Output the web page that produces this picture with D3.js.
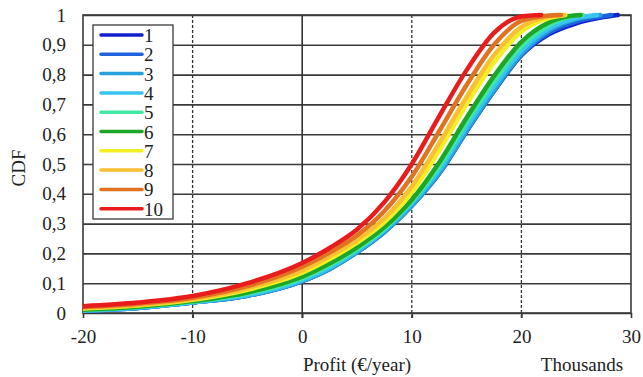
<!DOCTYPE html>
<html>
<head>
<meta charset="utf-8">
<script src="https://cdn.jsdelivr.net/npm/d3@7"></script>
<style>
  html, body { margin: 0; padding: 0; background: #fff; }
  svg text { font-family: 'Liberation Serif', 'Times New Roman', serif; fill: #222; }
</style>
</head>
<body>
<svg id="chart" width="643" height="377"></svg>
<script>
const xGrid = [-20, -15, -10, -5, 0, 2.5, 5, 7.5, 10, 12.5, 15, 17.5, 20, 22.5, 25, 27.5]

// CDF values per scenario at xGrid; series stop at their max profit (CDF = 1)
const s1 = [0.008, 0.017, 0.035, 0.058, 0.107, 0.148, 0.204, 0.272, 0.36, 0.468, 0.61, 0.745, 0.865, 0.935, 0.972, 0.993]
const s2 = [0.008, 0.017, 0.035, 0.058, 0.107, 0.148, 0.204, 0.272, 0.36, 0.468, 0.61, 0.745, 0.866, 0.94, 0.978, 0.996]
const s3 = [0.008, 0.017, 0.035, 0.058, 0.107, 0.148, 0.204, 0.272, 0.36, 0.47, 0.612, 0.748, 0.87, 0.948, 0.986]
const s4 = [0.008, 0.018, 0.036, 0.06, 0.11, 0.152, 0.208, 0.278, 0.368, 0.48, 0.625, 0.76, 0.88, 0.955, 0.99]
const s5 = [0.01, 0.02, 0.038, 0.065, 0.116, 0.159, 0.214, 0.282, 0.374, 0.492, 0.64, 0.777, 0.895, 0.965, 0.998]
const s6 = [0.011, 0.021, 0.04, 0.069, 0.122, 0.166, 0.22, 0.288, 0.38, 0.505, 0.655, 0.795, 0.91, 0.975, 0.999]
const s7 = [0.015, 0.025, 0.044, 0.078, 0.135, 0.181, 0.236, 0.305, 0.405, 0.545, 0.7, 0.84, 0.945, 0.99]
const s8 = [0.017, 0.027, 0.047, 0.083, 0.143, 0.19, 0.245, 0.318, 0.425, 0.57, 0.725, 0.865, 0.96, 0.995]
const s9 = [0.02, 0.031, 0.051, 0.09, 0.155, 0.203, 0.26, 0.342, 0.458, 0.61, 0.765, 0.9, 0.98, 0.998]
const s10 = [0.023, 0.035, 0.057, 0.1, 0.168, 0.218, 0.28, 0.372, 0.5, 0.66, 0.815, 0.94, 0.995]
const seriesMax = [28.8, 28.2, 27.2, 26.9, 25.6, 25.4, 24.0, 23.9, 23.6, 21.8]

const seriesNames = ['1', '2', '3', '4', '5', '6', '7', '8', '9', '10']
const seriesColors = ['#1020cc', '#1e62dc', '#28a0dc', '#38c4f0', '#40e8a4', '#1ea626', '#f2f024', '#f8c032', '#e07222', '#e81c1c']
const xTicks = [-20, -10, 0, 10, 20, 30]
const dashedX = [-10, 10, 20]
const yTicks = [0, 0.1, 0.2, 0.3, 0.4, 0.5, 0.6, 0.7, 0.8, 0.9, 1]

const allSeries = [s1, s2, s3, s4, s5, s6, s7, s8, s9, s10]

const svg = d3.select('#chart')
const margin = { top: 15, right: 12, bottom: 64, left: 83 }
const width = 643 - margin.left - margin.right
const height = 377 - margin.top - margin.bottom
const fontSize = '19px'

const bounds = svg.append('g').attr('transform', `translate(${margin.left},${margin.top})`)

const xScale = d3.scaleLinear().domain([-20, 30]).range([0, width])
const yScale = d3.scaleLinear().domain([0, 1]).range([height, 0])

// horizontal grid
bounds
  .append('g')
  .call(d3.axisRight(yScale).tickValues(yTicks).tickSize(width).tickFormat(''))
  .call((g) => g.select('.domain').remove())
  .call((g) => g.selectAll('.tick line').attr('stroke', '#3a3a3a').attr('stroke-width', 1.6))

// vertical grid: solid at 0, dashed elsewhere
bounds
  .append('g')
  .selectAll('line')
  .data(dashedX)
  .join('line')
  .attr('x1', (d) => xScale(d))
  .attr('x2', (d) => xScale(d))
  .attr('y1', 0)
  .attr('y2', height + 5)
  .attr('stroke', '#333')
  .attr('stroke-width', 1.3)
  .attr('stroke-dasharray', '3,2')

bounds
  .append('line')
  .attr('x1', xScale(0))
  .attr('x2', xScale(0))
  .attr('y1', 0)
  .attr('y2', height + 5)
  .attr('stroke', '#333')
  .attr('stroke-width', 1.6)

// frame
bounds
  .append('rect')
  .attr('width', width)
  .attr('height', height)
  .attr('fill', 'none')
  .attr('stroke', '#3a3a3a')
  .attr('stroke-width', 1.6)

// x axis
const xAxis = bounds
  .append('g')
  .attr('transform', `translate(0,${height})`)
  .call(d3.axisBottom(xScale).tickValues(xTicks).tickSize(5).tickPadding(12).tickFormat((d) => String(d)))
xAxis.select('.domain').remove()
xAxis.selectAll('.tick line').attr('stroke', '#333').attr('stroke-width', 1.6)
xAxis.selectAll('.tick text').style('font-size', fontSize).attr('fill', '#222')

// y axis labels
const yAxis = bounds
  .append('g')
  .call(d3.axisLeft(yScale).tickValues(yTicks).tickSize(0).tickPadding(17).tickFormat((d) => String(d).replace('.', ',')))
yAxis.select('.domain').remove()
yAxis.selectAll('.tick text').style('font-size', fontSize).attr('fill', '#222')

// axis titles
svg
  .append('text')
  .attr('x', 357)
  .attr('y', 371)
  .attr('text-anchor', 'middle')
  .style('font-size', fontSize)
  .text('Profit (€/year)')

svg
  .append('text')
  .attr('x', 582)
  .attr('y', 371)
  .attr('text-anchor', 'middle')
  .style('font-size', fontSize)
  .text('Thousands')

svg
  .append('text')
  .attr('transform', 'translate(25,168) rotate(-90)')
  .attr('text-anchor', 'middle')
  .style('font-size', fontSize)
  .text('CDF')

// curves
svg
  .append('defs')
  .append('clipPath')
  .attr('id', 'plot-clip')
  .append('rect')
  .attr('width', width)
  .attr('height', height + 3)
  .attr('y', -3)

const lineGen = d3
  .line()
  .x((d) => xScale(d[0]))
  .y((d) => yScale(d[1]))
  .curve(d3.curveMonotoneX)

const curves = allSeries.map((vals, i) => {
  const pts = vals.map((v, j) => [xGrid[j], v])
  pts.push([seriesMax[i], 1])
  return pts
})

bounds
  .append('g')
  .attr('clip-path', 'url(#plot-clip)')
  .selectAll('path')
  .data(curves)
  .join('path')
  .attr('d', lineGen)
  .attr('fill', 'none')
  .attr('stroke', (d, i) => seriesColors[i])
  .attr('stroke-width', 4.5)
  .attr('stroke-linecap', 'round')
  .attr('stroke-linejoin', 'round')

// legend
const legend = svg.append('g').attr('transform', 'translate(93,25)')
legend
  .append('rect')
  .attr('width', 80)
  .attr('height', 194)
  .attr('fill', '#fff')
  .attr('stroke', '#3a3a3a')
  .attr('stroke-width', 1.3)

const rows = legend
  .selectAll('.row')
  .data(seriesNames)
  .join('g')
  .attr('transform', (d, i) => `translate(0,${10 + i * 19.3})`)

rows
  .append('line')
  .attr('x1', 8)
  .attr('x2', 49)
  .attr('stroke', (d, i) => seriesColors[i])
  .attr('stroke-width', 3.5)
  .attr('stroke-linecap', 'round')

rows
  .append('text')
  .attr('x', 51)
  .attr('y', 7)
  .style('font-size', fontSize)
  .text((d) => d)
</script>
</body>
</html>
